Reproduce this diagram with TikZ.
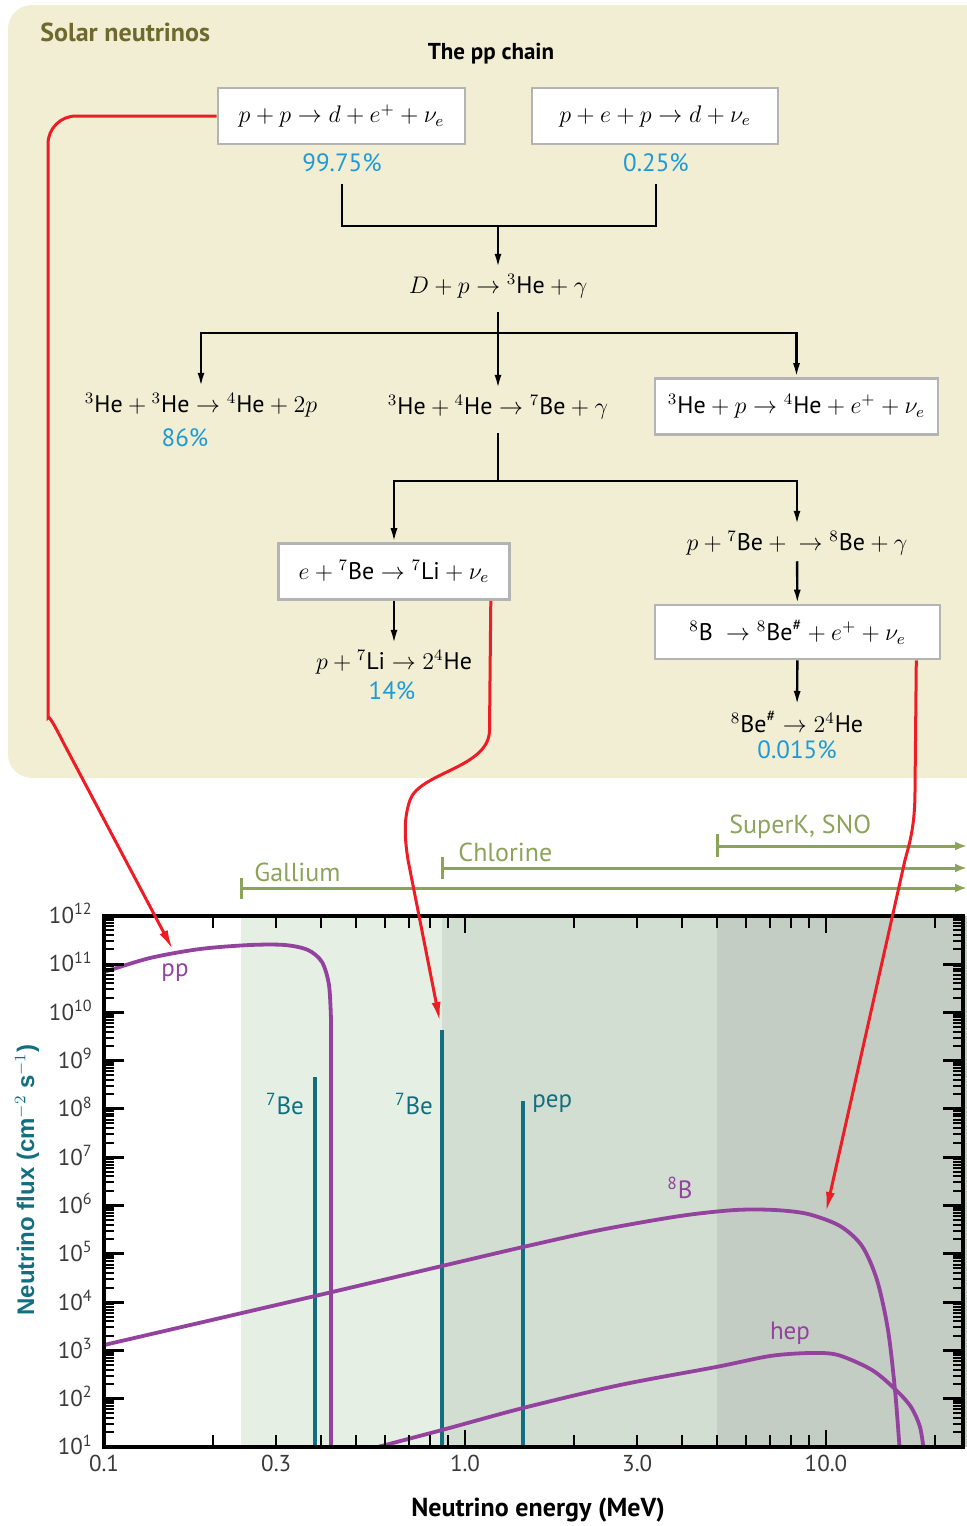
\documentclass[tikz,border=0pt]{standalone}
\usepackage{fontspec}
\setmainfont{PT Sans}
\newfontfamily\rndfont{Liberation Sans}
\usetikzlibrary{arrows.meta,positioning}
\definecolor{panelbg}{HTML}{F1EED3}
\definecolor{olivetxt}{HTML}{6E6A2E}
\definecolor{pctblue}{HTML}{1E9AD6}
\definecolor{boxgray}{HTML}{B4B4B4}
\definecolor{nured}{HTML}{EE1C24}
\definecolor{detgreen}{HTML}{8CA35A}
\definecolor{shadeA}{HTML}{E5EFE3}
\definecolor{shadeB}{HTML}{D3DED2}
\definecolor{shadeC}{HTML}{C4CDC3}
\definecolor{specpurple}{HTML}{93429E}
\definecolor{lineteal}{HTML}{116F80}
\definecolor{ticktxt}{HTML}{3A3A3A}
\begin{document}
\begin{tikzpicture}[x=0.5pt,y=-0.5pt]
  \tikzstyle{every node}+=[inner sep=3pt]
  \tikzstyle{rxn}=[font=\fontsize{12}{14}\selectfont]
  \tikzstyle{rxnbox}=[rxn, draw=boxgray, line width=1.3pt, fill=white, minimum height=28pt]
  \tikzstyle{pct}=[font=\fontsize{12.5}{14}\selectfont, text=pctblue, inner sep=1pt]
  \tikzstyle{tree}=[line width=1.2pt]
  \tikzstyle{arr}=[tree, -{Latex[length=7pt,width=3.5pt]}]
  \tikzstyle{nuarr}=[nured, line width=1.5pt, -{Latex[length=10pt,width=4.5pt]}]
  \tikzstyle{det}=[detgreen, line width=1.5pt]
  \tikzstyle{detlab}=[font=\fontsize{13}{15}\selectfont, text=detgreen, anchor=west]
  \tikzstyle{axline}=[line width=1pt]
  \tikzstyle{ticklab}=[font=\fontsize{11.5}{13}\selectfont, text=ticktxt]
  \tikzstyle{speclab}=[font=\fontsize{12.5}{14}\selectfont]
  \tikzstyle{spec}=[specpurple, line width=1.9pt]
  \tikzstyle{mono}=[lineteal, line width=1.8pt]
  \useasboundingbox (0,0) rectangle (967,1526);
  \clip (0,0) rectangle (967,1526);
  % panel with the pp chain
  \fill[panelbg, rounded corners=12pt] (8,5) rectangle (1000,778);
  \node[anchor=west, text=olivetxt, font=\bfseries\fontsize{13}{15}\selectfont] (title) at (34,32) {Solar neutrinos};
  \node[font=\bfseries\fontsize{11.5}{14}\selectfont] (chain) at (491,54) {The pp chain};
  \node[rxnbox, minimum width=123.5pt] (ppd) at (341.5,116) {$p+p\rightarrow d+e^{+}+\nu_e$};
  \node[rxnbox, minimum width=123pt] (pep) at (655,116) {$p+e+p\rightarrow d+\nu_e$};
  \node[pct] (fppd) at (342,163) {99.75\%};
  \node[pct] (fpep) at (656,163) {0.25\%};
  \coordinate (jA) at (498,226);
  \node[rxn] (dp) at (498,286) {$D+p\rightarrow {}^{3}\mathrm{He}+\gamma$};
  \coordinate (jB) at (498,333);
  \node[rxn] (hehe) at (201,405) {${}^{3}\mathrm{He}+{}^{3}\mathrm{He}\rightarrow {}^{4}\mathrm{He}+2p$};
  \node[pct] (fhehe) at (185,438) {86\%};
  \node[rxn] (hebe) at (498,407) {${}^{3}\mathrm{He}+{}^{4}\mathrm{He}\rightarrow {}^{7}\mathrm{Be}+\gamma$};
  \node[rxnbox, minimum width=141.5pt] (hep) at (796.5,406.5) {${}^{3}\mathrm{He}+p\rightarrow {}^{4}\mathrm{He}+e^{+}+\nu_e$};
  \coordinate (jC) at (498,481);
  \node[rxnbox, minimum width=115.5pt] (ebe) at (394,571.5) {$e+{}^{7}\mathrm{Be}\rightarrow {}^{7}\mathrm{Li}+\nu_e$};
  \node[rxn] (pbe) at (797,543) {$p+{}^{7}\mathrm{Be}+{}\rightarrow {}^{8}\mathrm{Be}+\gamma$};
  \node[rxn] (pli) at (394,662) {$p+{}^{7}\mathrm{Li}\rightarrow 2{}^{4}\mathrm{He}$};
  \node[pct] (fpli) at (392,691) {14\%};
  \node[rxnbox, minimum width=142.5pt, minimum height=27pt] (bdec) at (797.5,632) {${}^{8}\mathrm{B}\;\rightarrow {}^{8}\mathrm{Be}^{\#}+e^{+}+\nu_e$};
  \node[rxn] (bestar) at (797,722) {${}^{8}\mathrm{Be}^{\#}\rightarrow 2{}^{4}\mathrm{He}$};
  \node[pct] (fbestar) at (797,750) {0.015\%};
  \draw[tree, shorten <=5pt] (fppd.south) |- (jA);
  \draw[tree, shorten <=5pt] (fpep.south) |- (jA);
  \draw[arr] (jA) -- (dp);
  \draw[tree, shorten <=4pt] (dp) -- (jB);
  \draw[arr] (jB) -| (hehe.north);
  \draw[arr] (jB) -- (hebe);
  \draw[arr] (jB) -| (hep.north);
  \draw[tree, shorten <=4pt] (hebe) -- (jC);
  \draw[arr] (jC) -| (ebe.north);
  \draw[arr] (jC) -| (pbe.north);
  \draw[arr] (ebe) -- (pli);
  \draw[arr] (pbe) -- (bdec);
  \draw[arr] (bdec) -- (bestar);
  % detector thresholds
  \node[detlab] (gal) at (248,872) {Gallium};
  \node[detlab] (chl) at (452,852) {Chlorine};
  \node[detlab] (sk) at (723,827) {SuperK, SNO};
  \draw[det, -{Latex[length=6pt,width=4.5pt]}] (241,888) -- (967,888);
  \draw[det] (241,878) -- (241,899);
  \draw[det, -{Latex[length=6pt,width=4.5pt]}] (442,868) -- (967,868);
  \draw[det] (442,857) -- (442,879);
  \draw[det, -{Latex[length=6pt,width=4.5pt]}] (717,846) -- (967,846);
  \draw[det] (717,834) -- (717,857);
  % flux plot
  \fill[shadeA] (241,916) rectangle (442,1447);
  \fill[shadeB] (442,916) rectangle (717,1447);
  \fill[shadeC] (717,916) rectangle (967,1447);
  \begin{scope}
    \clip (104,916) rectangle (963,1447);
    \draw[mono] (315,1077) -- (315,1447);
    \draw[mono] (442,1030) -- (442,1447);
    \draw[mono] (523,1101) -- (523,1447);
    \draw[spec] plot[smooth] coordinates {(104,972) (150,958) (200,949) (250,945) (285,945) (308,950) (322,962) (329,985) (331,1020)} -- (331,1450);
    \draw[spec] plot[smooth] coordinates {(104,1345) (315,1296) (442,1266) (523,1247) (600,1230) (680,1216) (735,1210) (775,1210) (808,1214) (840,1226) (862,1246) (877,1280) (888,1330) (895,1390) (899,1440) (900,1452)};
    \draw[spec] plot[smooth] coordinates {(370,1449) (442,1430) (523,1408) (620,1385) (716,1367) (770,1356) (810,1353) (838,1355) (872,1370) (896,1390) (911,1407) (920,1427) (924,1452)};
  \end{scope}
  \node[speclab, text=specpurple] (pplab) at (175,973) {pp};
  \node[speclab, text=specpurple] (b8lab) at (680,1188) {\textsuperscript{8}B};
  \node[speclab, text=specpurple] (heplab) at (790,1333) {hep};
  \node[speclab, text=lineteal] (be7a) at (285,1104) {\textsuperscript{7}Be};
  \node[speclab, text=lineteal] (be7b) at (414,1104) {\textsuperscript{7}Be};
  \node[speclab, text=lineteal, anchor=west] (peplab) at (526,1104) {pep};
  % axes and ticks
  \foreach \e in {0.2,0.3,0.4,0.5,0.6,0.7,0.8,0.9,2,3,4,5,6,7,8,9,20} {
    \pgfmathsetmacro\tx{104+361*log10(\e/0.1)}
    \draw[axline] (\tx,1447) -- ++(0,-12);
    \draw[axline] (\tx,916) -- ++(0,12);
  }
  \foreach \e in {1,10} {
    \pgfmathsetmacro\tx{104+361*log10(\e/0.1)}
    \draw[axline] (\tx,1447) -- ++(0,-17);
    \draw[axline] (\tx,916) -- ++(0,17);
  }
  \foreach \d in {1,...,11}
    \foreach \m in {2,...,9} {
      \pgfmathsetmacro\ty{1447-48.3*(\d-1+log10(\m))}
      \draw[axline] (104,\ty) -- ++(10,0);
      \draw[axline] (963,\ty) -- ++(-10,0);
    }
  \foreach \d in {1,...,12} {
    \pgfmathsetmacro\ty{1447-48.3*(\d-1)}
    \draw[line width=1.5pt] (104,\ty) -- ++(20,0);
    \draw[line width=1.5pt] (963,\ty) -- ++(-20,0);
    \node[ticklab, anchor=east] (yl\d) at (99,\ty-2) {10\textsuperscript{\d}};
  }
  \foreach \e/\t [count=\i] in {0.1/0.1,0.3/0.3,1/1.0,3/3.0,10/10.0} {
    \pgfmathsetmacro\tx{104+361*log10(\e/0.1)}
    \node[ticklab] (xl\i) at (\tx,1463) {\t};
  }
  \draw[line width=1.6pt] (104,916) rectangle (963,1447);
  \node[font=\bfseries\fontsize{13}{15}\selectfont] (xtitle) at (538,1510) {Neutrino energy (MeV)};
  \node[rotate=90, text=lineteal, font=\rndfont\bfseries\fontsize{12}{14}\selectfont] (ytitle) at (27,1180) {Neutrino flux (cm$^{-2}$ s$^{-1}$)};
  % neutrino sources to spectra
  \coordinate (pptip) at (173,950);
  \coordinate (be7tip) at (440,1022);
  \coordinate (b8tip) at (826,1212);
  \draw[nuarr] (ppd.west) [rounded corners=14pt] -| (48,690) [sharp corners] .. controls (48,715) and (52,720) .. (62,740) -- (pptip);
  \draw[nuarr] ([xshift=-10pt]ebe.south east) -- (489.5,730) .. controls (489.5,768) and (420,772) .. (410,800) .. controls (403,820) and (405,840) .. (408,860) -- (be7tip);
  \draw[nuarr] ([xshift=-12.5pt]bdec.south east) -- (915,790) .. controls (915,825) and (910,842) .. (905,860) -- (b8tip);
\end{tikzpicture}
\end{document}
